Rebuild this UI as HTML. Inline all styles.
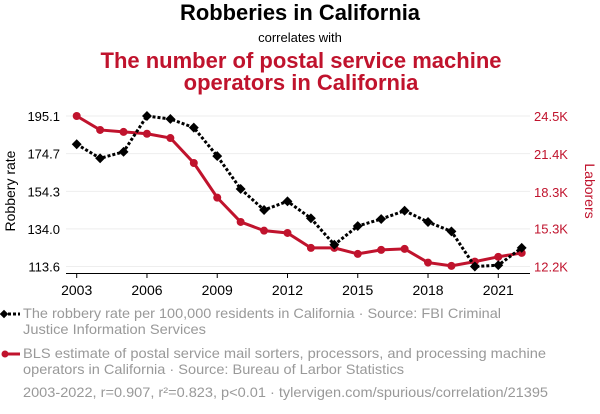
<!DOCTYPE html>
<html><head><meta charset="utf-8"><style>
body{margin:0;background:#fff;width:600px;height:414px;overflow:hidden;font-family:"Liberation Sans",sans-serif}
svg{display:block}
</style></head><body>
<svg id="c" width="600" height="414" font-family="Liberation Sans, sans-serif">
<text x="300" y="20" text-anchor="middle" font-size="22" font-weight="bold" fill="#000" textLength="240" lengthAdjust="spacingAndGlyphs">Robberies in California</text>
<text x="300" y="42" text-anchor="middle" font-size="13" fill="#000">correlates with</text>
<text x="301" y="68" text-anchor="middle" font-size="22" font-weight="bold" fill="#c0132d" textLength="401" lengthAdjust="spacingAndGlyphs">The number of postal service machine</text>
<text x="301" y="90" text-anchor="middle" font-size="22" font-weight="bold" fill="#c0132d">operators in California</text>
<g id="grid"></g><g id="axes"></g><g id="marks"></g>
<text transform="translate(15,191) rotate(-90)" text-anchor="middle" font-size="14" fill="#000">Robbery rate</text>
<text transform="translate(585,191) rotate(90)" text-anchor="middle" font-size="14" fill="#c0132d">Laborers</text>
<g font-size="14" fill="#999">
<g>
<line x1="3" y1="314" x2="20" y2="314" stroke="#000" stroke-width="3" stroke-dasharray="3,2"/>
<rect x="1" y="311" width="6" height="6" fill="#000" transform="rotate(45 4 314)"/>
<text x="23" y="318" textLength="478" lengthAdjust="spacingAndGlyphs">The robbery rate per 100,000 residents in California · Source: FBI Criminal</text>
<text x="23" y="334" textLength="183" lengthAdjust="spacingAndGlyphs">Justice Information Services</text></g>
<g>
<line x1="3" y1="354" x2="20" y2="354" stroke="#c0132d" stroke-width="3"/>
<circle cx="5" cy="354" r="3.5" fill="#c0132d"/>
<text x="23" y="358" textLength="523" lengthAdjust="spacingAndGlyphs">BLS estimate of postal service mail sorters, processors, and processing machine</text>
<text x="23" y="374" textLength="381" lengthAdjust="spacingAndGlyphs">operators in California · Source: Bureau of Larbor Statistics</text></g>
<text x="23" y="397" textLength="525" lengthAdjust="spacingAndGlyphs">2003-2022, r=0.907, r²=0.823, p&lt;0.01 · tylervigen.com/spurious/correlation/21395</text>
</g>
</svg>
<script>
const years=[2003,2004,2005,2006,2007,2008,2009,2010,2011,2012,2013,2014,2015,2016,2017,2018,2019,2020,2021,2022];
const robbery=[179.8,172.2,175.7,195.1,193.5,188.8,173.4,155.6,144.2,148.9,139.7,125.4,135.5,139.3,143.8,137.7,132.6,113.6,114.3,123.7];
const laborers=[24.5,23.36,23.2,23.05,22.7,20.66,17.83,15.84,15.13,14.94,13.72,13.72,13.23,13.56,13.64,12.52,12.25,12.6,12.99,13.31];
const leftTicks=[113.6,134.0,154.3,174.7,195.1];
const rightTicks=[12.2,15.3,18.3,21.4,24.5];
const xTicks=[2003,2006,2009,2012,2015,2018,2021];
const NS="http://www.w3.org/2000/svg";
const x=v=>76.7+(v-2003)*(521.7-76.7)/19;
const yl=v=>116+(195.1-v)*(266.5-116)/(195.1-113.6);
const yr=v=>116+(24.5-v)*(266.5-116)/(24.5-12.2);
function mk(t,a,p){const e=document.createElementNS(NS,t);for(const k in a)e.setAttribute(k,a[k]);p.appendChild(e);return e;}
const grid=document.getElementById('grid'),axes=document.getElementById('axes'),marks=document.getElementById('marks');
leftTicks.forEach((v,i)=>{const yy=yl(v);
const g=mk('line',{x1:66,x2:530,y1:yy,y2:yy,stroke:'#eee','stroke-width':1},grid);


const t=mk('text',{x:60,y:yy+5,'text-anchor':'end','font-size':13,fill:'#000'},axes);t.textContent=v.toFixed(1);


const r=mk('text',{x:534,y:yr(rightTicks[i])+5,'font-size':13,fill:'#c0132d'},axes);r.textContent=rightTicks[i].toFixed(1)+'K';

});
const ax=mk('line',{x1:66,x2:530,y1:273.5,y2:273.5,stroke:'#000','stroke-width':1},axes);


xTicks.forEach(v=>{mk('line',{x1:x(v),x2:x(v),y1:273.5,y2:278,stroke:'#000'},axes);
const t=mk('text',{x:x(v),y:295,'text-anchor':'middle','font-size':14,fill:'#000'},axes);t.textContent=v;

});
const rp=mk('polyline',{points:years.map((y,i)=>x(y)+','+yr(laborers[i])).join(' '),fill:'none',stroke:'#c0132d','stroke-width':3},marks);


years.forEach((y,i)=>{const c=mk('circle',{cx:x(y),cy:yr(laborers[i]),r:4,fill:'#c0132d'},marks);

});
const bp=mk('polyline',{points:years.map((y,i)=>x(y)+','+yl(robbery[i])).join(' '),fill:'none',stroke:'#000','stroke-width':3,'stroke-dasharray':'3,2'},marks);


years.forEach((y,i)=>{const cx=x(y),cy=yl(robbery[i]);
const d=mk('rect',{x:cx-3.5,y:cy-3.5,width:7,height:7,fill:'#000',transform:`rotate(45 ${cx} ${cy})`},marks);

});
</script>
</body></html>
